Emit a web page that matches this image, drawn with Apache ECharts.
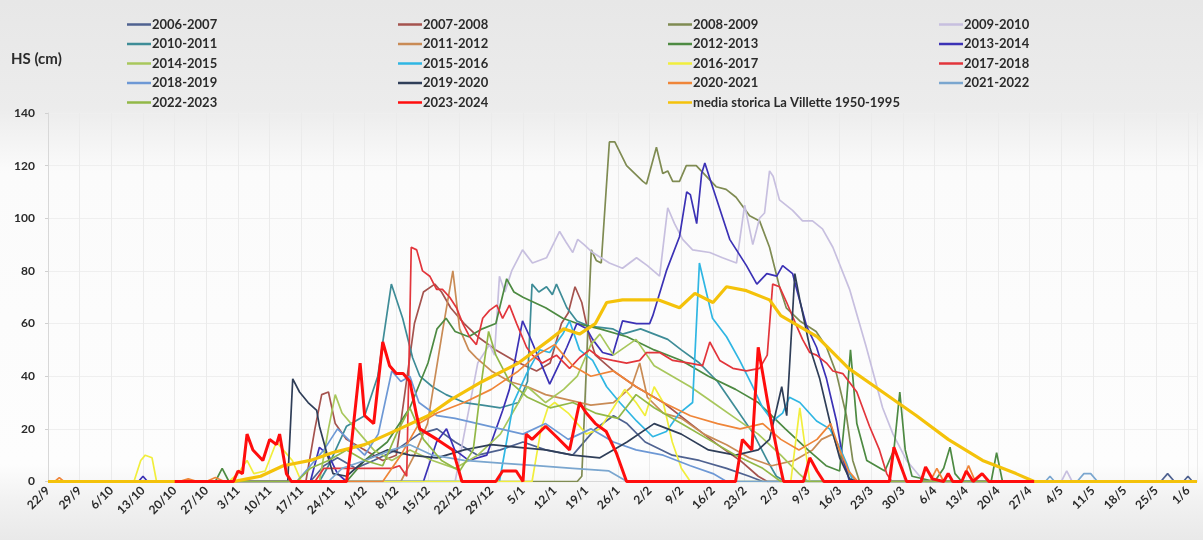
<!DOCTYPE html>
<html>
<head>
<meta charset="utf-8">
<script src="https://cdn.jsdelivr.net/npm/echarts/dist/echarts.min.js"></script>
<style>
html, body { margin: 0; padding: 0; background: #ffffff; }
#chart { width: 1203px; height: 540px; }
</style>
</head>
<body>
<div id="chart"></div>
<script>
// Season axis: day 0 = 22 September, weekly tick labels up to 1 June (day 252)
const DATE_LABELS = ['22/9','29/9','6/10','13/10','20/10','27/10','3/11','10/11','17/11','24/11',
  '1/12','8/12','15/12','22/12','29/12','5/1','12/1','19/1','26/1','2/2','9/2','16/2','23/2',
  '2/3','9/3','16/3','23/3','30/3','6/4','13/4','20/4','27/4','4/5','11/5','18/5','25/5','1/6'];

const Y_TICKS = [0, 20, 40, 60, 80, 100, 120, 140];

// Snow depth HS (cm) per season: [day of season, cm]
const HS_2006_2007 = [[0,0],[58,0],[61,6],[64,9],[68,5],[72,8],[77,12],[82,18],[86,20],[90,15],[95,10],[100,12],[105,15],[110,12],[116,10],[121,20],[125,25],[128,22],[132,15],[138,10],[144,8],[150,5],[155,2],[158,0],[246,0],[247.5,3],[249,0],[251,0],[252,2],[253,0],[254,0]];
const HS_2007_2008 = [[0,0],[57,0],[59,20],[60.5,33],[62,34],[63.5,22],[66,16],[70,12],[74,8],[77,10],[79,35],[81,60],[83,72],[85.5,75],[87,72],[89,66],[92,60],[95,55],[99,50],[103,46],[108,42],[111,45],[113.5,60],[115,64],[116.5,74],[118,68],[119.5,56],[121,48],[125,42],[130,36],[136,30],[142,22],[148,14],[153,8],[157,2],[159,0],[254,0]];
const HS_2008_2009 = [[0,0],[117,0],[118,2],[120.1,88],[121.2,84],[122.3,83],[124.1,129],[125.3,129],[127.9,120],[131.5,114],[132.3,113],[134.5,127],[135.9,117],[137,118],[138.1,114],[139.6,114],[141.1,120],[143.3,120],[145.5,116],[147.7,112],[149.9,111],[152.1,108],[155.1,101],[157.3,99],[159.5,89],[161.7,74],[163.2,66],[166.2,61],[169.8,57],[172.1,51],[174.3,41],[176.5,25],[177.9,8],[179.4,0],[254,0]];
const HS_2009_2010 = [[0,0],[90,0],[92,18],[95,45],[97.6,52],[98.7,48],[99.8,78],[101,72],[102.5,80],[104.9,88],[107.1,83],[110.2,85],[113.1,95],[114.5,91],[116,87],[117.1,92],[118.5,90],[120.4,87],[124.1,83],[127,81],[130.1,85],[132.5,82],[135.2,78],[137,104],[138.5,98],[140.3,92],[142.5,88],[146.3,87],[149.1,85],[152.2,83],[154,105],[155.8,90],[157.3,100],[158.4,102],[159.5,118],[160.3,116],[161.7,107],[164.6,103],[166.8,99],[169,99],[171.2,96],[173.5,89],[177.2,73],[180.9,51],[184.5,28],[186.8,18],[189.8,8],[192.7,2],[194,0],[224,0],[225.2,4],[226.4,0],[254,0]];
const HS_2010_2011 = [[0,0],[60,0],[62,6],[66,21],[70,25],[72.9,40],[75.9,75],[78.4,62],[80.6,47],[82.2,40],[85,36],[88,33],[92,30],[96,29],[100,28],[104,30],[106,38],[107,75],[108.5,72],[110.2,74],[111.5,71],[112.4,75],[114.7,66],[116.9,61],[119.7,59],[124.8,58],[127,56],[131,58],[134,56],[137,54],[140,50],[144,45],[148,38],[152,28],[156,18],[159,8],[161,2],[163,0],[254,0]];
const HS_2011_2012 = [[0,0],[78,0],[81,10],[83.9,22],[87.2,57],[89.5,80],[91,58],[93,50],[94.7,47],[98,42],[102,38],[106,36],[110,33],[115,31],[120,29],[125,30],[129,36],[130.8,45],[132.5,32],[136,26],[140,24],[145,18],[150,14],[155,9],[160,6],[165,8],[169,12],[171,16],[173.5,18],[175,10],[177,3],[179,0],[254,0]];
const HS_2012_2013 = [[0,0],[37,0],[38.5,5],[40,0],[66,0],[70,8],[75,15],[80,28],[84,45],[86,58],[88,62],[90,57],[93,55],[96,58],[99,60],[101.4,77],[103,72],[105,70],[110,66],[113.8,62],[117,60],[122,58],[128,55],[134,50],[140,46],[146,40],[152,35],[157,30],[163,20],[168,12],[172,6],[175,4],[176.5,30],[177.4,50],[178.8,22],[181,8],[185,4],[187,12],[188.3,34],[189.5,12],[191,2],[196,0],[198,5],[199.4,13],[200.5,3],[202,0],[208.5,0],[209.7,11],[211,0],[254,0]];
const HS_2013_2014 = [[0,0],[20,0],[21,2],[22,0],[58,0],[60,13],[62,10],[64,3],[66,0],[83,0],[85.9,15],[88.1,20],[89.9,12],[93,8],[97,10],[100.5,27],[102,35],[104.9,61],[106.5,55],[108.7,46],[110.9,37],[113.1,45],[114.7,51],[116.9,60],[119.1,58],[120.4,54],[122.6,49],[124.8,48],[126,55],[127,61],[130.1,60],[133,60],[133.7,63],[136.7,80],[139.6,93],[141.2,110],[142,109],[143.4,98],[144.5,117],[145.2,121],[146.9,112],[150.7,92],[154.4,82],[156.7,75],[158.9,79],[161.1,78],[162.4,82],[164.6,79],[165.5,73],[167.7,59],[169.9,51],[172.1,39],[174.3,23],[175.7,9],[177.2,0],[254,0]];
const HS_2014_2015 = [[0,0],[60,0],[62,20],[63.5,33],[65,26],[68,20],[72,12],[76,8],[80,12],[85,8],[90,5],[95,10],[100,18],[104,30],[106,36],[110,30],[114,35],[117,40],[120,52],[122,56],[125,48],[130,54],[134,44],[138,40],[142,36],[147,30],[152,24],[157,18],[162,10],[166,3],[168,0],[254,0]];
const HS_2015_2016 = [[0,0],[99.8,0],[102.9,30],[105.8,41],[108.7,50],[110.9,49],[113.8,56],[115.3,61],[117.5,50],[120.4,46],[123.5,36],[126.4,30],[130.1,23],[133.7,17],[136.7,19],[139.6,26],[142.5,30],[144,83],[146.9,62],[150,55],[152.9,46],[155.8,36],[158,28],[160.2,23],[162.4,26],[163.9,32],[166.2,30],[169.9,23],[172.8,20],[175,13],[176.5,7],[177.9,0],[254,0]];
const HS_2016_2017 = [[0,0],[19,0],[20.5,8],[21.5,10],[23,9],[24,0],[40,0],[42,3],[44,8],[45.5,3],[48,4],[50.5,15],[52,12],[54,8],[56,0],[107,0],[109,20],[110.5,28],[112,30],[115,26],[119,18],[122,20],[125,28],[127.5,35],[130,30],[132,25],[134,36],[136,30],[138,15],[140,5],[142,0],[164.2,0],[166.2,28],[168.4,0],[254,0]];
const HS_2017_2018 = [[0,0],[59,0],[61,5],[70,5],[76,5],[77.7,6],[79.3,2],[80.3,89],[81.5,88],[82.8,80],[84.4,78],[85.9,73],[87.2,73],[88.8,70],[90.3,66],[91.7,60],[93.2,55],[94.7,52],[96.1,62],[97.6,65],[99.2,67],[100.5,62],[102,67],[103.6,60],[105.8,51],[107.1,48],[109.3,45],[112.4,48],[115.3,43],[117.5,47],[119.7,50],[122,47],[124.8,46],[127.9,45],[130.8,46],[132.3,49],[135.2,49],[138.1,46],[141.8,45],[144.7,44],[146.3,53],[148.5,46],[151.4,43],[154.4,42],[157.3,43],[159,48],[160.2,75],[161.7,74],[163.3,68],[165.5,59],[166.8,54],[168.4,49],[169.9,48],[172.1,45],[173.5,42],[175.7,41],[178.8,34],[181.6,21],[183.8,12],[185.4,3],[186.5,0],[254,0]];
const HS_2018_2019 = [[0,0],[55,0],[58,6],[61,12],[64,20],[67,15],[70,10],[73,18],[76,42],[78,38],[80,40],[82,30],[86,25],[90,24],[95,22],[100,20],[105,18],[110,22],[115,16],[120,20],[125,15],[130,12],[136,10],[142,6],[147,3],[150,0],[254,0]];
const HS_2019_2020 = [[0,0],[53,0],[54.1,39],[55.6,34],[57.5,30],[59.4,27],[60,21],[61.6,11],[63,3],[66,2],[70,8],[75,12],[80,10],[86,9],[92,12],[98,14],[104,13],[110,12],[116,10],[122,9],[128,15],[134,22],[140,18],[146,12],[152,10],[157,12],[159.5,16],[162.2,36],[163.3,25],[165.1,79],[166.2,69],[168.4,51],[170.6,39],[172.8,23],[175,9],[177.2,1],[179,0],[254,0]];
const HS_2020_2021 = [[0,0],[1.5,0],[2.5,1.5],[3.5,0],[29,0],[31,1],[33,0],[35,0],[37,1.5],[39,0],[74,0],[78,10],[82,22],[86,26],[92,30],[98,35],[104,42],[108,48],[112,52],[116,44],[120,40],[125,42],[130,36],[136,30],[142,25],[148,22],[153,20],[158,22],[162,16],[166,12],[170,16],[173,22],[175,12],[177,4],[179,0],[195,0],[196.5,5],[198,0],[202,0],[203.5,6],[205,0],[254,0]];
const HS_2021_2022 = [[0,0],[62,0],[65,5],[70,8],[76,12],[80,14],[85,10],[92,8],[100,7],[108,6],[116,5],[124,4],[128,0],[220.5,0],[221.5,2],[222.5,0],[227.5,0],[229,3],[230.5,3],[232,0],[254,0]];
const HS_2022_2023 = [[0,0],[55,0],[58,5],[62,8],[66,12],[70,8],[74,6],[77,18],[80,28],[83,16],[87,8],[91,4],[94,12],[96,40],[97.4,57],[99,48],[102,38],[106,32],[111,28],[116,30],[121,26],[126,24],[130,33],[134,28],[140,22],[146,16],[152,10],[158,5],[162,0],[254,0]];
const HS_2023_2024 = [[28,0],[41,0],[42,4],[43,3],[44,18],[45.3,12],[47.5,8],[49,16],[50.5,14],[51.2,18],[52.7,3],[53.8,0],[66,0],[67,13],[69,45],[70,25],[72,22],[74,53],[75.5,44],[77,41],[78.5,41],[80,38],[81.5,25],[82.2,20],[86,16],[89.5,12],[91.5,0],[99,0],[100.5,4],[103.5,4],[105,0],[105.7,18],[107,16],[110,21],[112.4,17],[115.3,12],[117.5,30],[119,26],[121,22],[123.4,19],[125.6,11],[127.9,0],[152,0],[153.5,16],[155.6,12],[157,51],[159.5,26],[161.7,7],[162.6,0],[167,0],[168.4,9],[170,4],[171.5,0],[186,0],[187,13],[189.8,0],[193,0],[194,5.5],[195.5,1],[198,0],[199,3],[200,0],[202,0],[203,4],[204.5,0],[206.5,3],[208,0],[218,0]];
const HS_MEDIA = [[0,0],[41,0],[44,1],[47,2],[52,6],[58,8],[63,11],[70,14],[77.7,20],[84,25],[89,31],[96,38],[104,45],[111,54],[114,58],[117.5,56],[121,60],[123.5,68],[127,69],[131,69],[135,69],[139.6,66],[143,71.5],[147,68],[150,74],[154.4,72.5],[159.5,69],[162,63],[166,59],[170,55],[177,43],[184.5,34],[192,25],[199,16],[206.6,8],[214,3],[218,0],[254,0]];

const SEASON_NAMES = ['2006-2007','2007-2008','2008-2009','2009-2010','2010-2011','2011-2012',
  '2012-2013','2013-2014','2014-2015','2015-2016','2016-2017','2017-2018','2018-2019',
  '2019-2020','2020-2021','2021-2022','2022-2023'];
const SEASON_DATA = [HS_2006_2007, HS_2007_2008, HS_2008_2009, HS_2009_2010, HS_2010_2011,
  HS_2011_2012, HS_2012_2013, HS_2013_2014, HS_2014_2015, HS_2015_2016, HS_2016_2017,
  HS_2017_2018, HS_2018_2019, HS_2019_2020, HS_2020_2021, HS_2021_2022, HS_2022_2023];
const CURRENT_NAME = '2023-2024';
const MEDIA_NAME = 'media storica La Villette 1950-1995';

// Line colours
const SEASON_COLORS = ['#4f6290','#a5534e','#7f8b52','#c7bfdf','#3e8c97','#c98b55','#4d8a42',
  '#3b31b5','#a8c75c','#2fb6e3','#f1ee3c','#e2353b','#6d98d5','#2f3e58','#ef8538','#7aa6cf','#92b847'];
const CURRENT_COLOR = '#ff0d0d';
const MEDIA_COLOR = '#f4c20a';

const FONT = 'Lato, "Open Sans", sans-serif';

const series = SEASON_NAMES.map((name, i) => ({
  name: name,
  type: 'line',
  data: SEASON_DATA[i],
  color: SEASON_COLORS[i],
  showSymbol: false,
  symbol: 'none',
  lineStyle: { width: 1.7, color: SEASON_COLORS[i] },
  emphasis: { disabled: true },
  z: 2
}));
series.push({
  name: MEDIA_NAME, type: 'line', data: HS_MEDIA, color: MEDIA_COLOR,
  showSymbol: false, symbol: 'none', lineStyle: { width: 3.2, color: MEDIA_COLOR },
  emphasis: { disabled: true }, z: 3
});
series.push({
  name: CURRENT_NAME, type: 'line', data: HS_2023_2024, color: CURRENT_COLOR,
  showSymbol: false, symbol: 'none', lineStyle: { width: 3, color: CURRENT_COLOR },
  emphasis: { disabled: true }, z: 4
});

// Legend laid out in four columns
const LEGEND_COLUMNS = [
  ['2006-2007','2010-2011','2014-2015','2018-2019','2022-2023'],
  ['2007-2008','2011-2012','2015-2016','2019-2020','2023-2024'],
  ['2008-2009','2012-2013','2016-2017','2020-2021', MEDIA_NAME],
  ['2009-2010','2013-2014','2017-2018','2021-2022']
];
const LEGEND_LEFT = [122, 393, 663, 934];

const legends = LEGEND_COLUMNS.map((names, i) => ({
  data: names,
  orient: 'vertical',
  left: LEGEND_LEFT[i],
  top: 13,
  itemGap: 6.5,
  itemWidth: 24,
  itemHeight: 2.5,
  icon: 'rect',
  selectedMode: false,
  textStyle: { fontFamily: FONT, fontSize: 13, fontWeight: 'bold', color: '#2b2b2b', padding: [0, 0, 0, -4] }
}));

const chart = echarts.init(document.getElementById('chart'), null, { renderer: 'canvas' });
chart.setOption({
  animation: false,
  backgroundColor: {
    type: 'linear', x: 0, y: 0, x2: 0, y2: 1,
    colorStops: [
      { offset: 0, color: '#e7e7e7' },
      { offset: 0.2, color: '#ececec' },
      { offset: 0.32, color: '#fbfbfb' },
      { offset: 0.86, color: '#fdfdfd' },
      { offset: 0.93, color: '#f1f1f1' },
      { offset: 1, color: '#e9e9e9' }
    ]
  },
  legend: legends,
  graphic: [{
    type: 'text', left: 11, top: 52,
    style: { text: 'HS (cm)', font: 'bold 15px ' + FONT, fill: '#2b2b2b' }
  }],
  grid: { left: 48, right: 6, top: 113, bottom: 58.5, containLabel: false },
  xAxis: {
    type: 'value',
    min: 0,
    max: 254,
    interval: 7,
    axisLine: { show: true, lineStyle: { color: '#d8d8d8' } },
    axisTick: { show: false },
    splitLine: { show: true, lineStyle: { color: '#ebebeb', width: 1 } },
    axisLabel: {
      rotate: 45,
      margin: 7,
      showMaxLabel: false,
      fontFamily: FONT, fontSize: 12, fontWeight: 'bold', color: '#2b2b2b',
      formatter: v => (v % 7 === 0 && DATE_LABELS[v / 7]) ? DATE_LABELS[v / 7] : ''
    }
  },
  yAxis: {
    type: 'value',
    min: Y_TICKS[0],
    max: Y_TICKS[Y_TICKS.length - 1],
    interval: Y_TICKS[1] - Y_TICKS[0],
    axisLine: { show: true, lineStyle: { color: '#d8d8d8' } },
    axisTick: { show: true, length: 3, lineStyle: { color: '#d0d0d0' } },
    splitLine: { show: true, lineStyle: { color: '#efefef', width: 1 } },
    axisLabel: { margin: 13, fontFamily: FONT, fontSize: 12, fontWeight: 'bold', color: '#2b2b2b' }
  },
  series: series
});
</script>
</body>
</html>
